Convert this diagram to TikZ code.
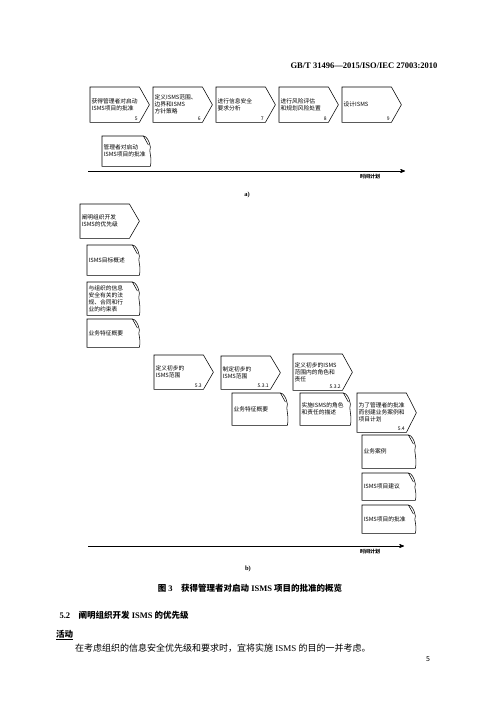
\documentclass[tikz,border=0pt]{standalone}
\usepackage{fontspec}
\setmainfont{Liberation Serif}
\newfontfamily\cjk{Noto Sans CJK SC}
\usetikzlibrary{arrows,calc}
\newcommand\boxfont{\cjk\fontsize{5.75}{7}\selectfont}
\tikzset{
  box_line/.style = {line width=0.55pt, black},
  box_text/.style = {align=left, inner sep=1.5pt, text width=46pt, font=\boxfont},
  step_box/.style = {box_text, rectangle, anchor=north west, minimum height=#1,
    append after command={\pgfextra{\draw[box_line]
      (\tikzlastnode.north west) -- (\tikzlastnode.north east)
      -- ($(\tikzlastnode.east)+(10,0)$) -- (\tikzlastnode.south east)
      -- (\tikzlastnode.south west) -- cycle;}}},
  step_box/.default = 35pt,
  doc_box/.style = {box_text, rectangle, anchor=north west, text width=#1,
    append after command={\pgfextra{\draw[box_line]
      ([xshift=-7pt]\tikzlastnode.north east) -- (\tikzlastnode.north west)
      -- (\tikzlastnode.south west) -- (\tikzlastnode.south east)
      .. controls ([xshift=2pt,yshift=10pt]\tikzlastnode.south east)
         and ([xshift=-2pt,yshift=-16pt]\tikzlastnode.north east)
      .. ([yshift=-11pt]\tikzlastnode.north east)
      .. controls ([xshift=-1pt,yshift=-5pt]\tikzlastnode.north east)
         and ([xshift=-4pt]\tikzlastnode.north east)
      .. ([xshift=-7pt]\tikzlastnode.north east);
      \draw[box_line] ([xshift=-7pt]\tikzlastnode.north east)
      .. controls ([xshift=-4pt,yshift=-4pt]\tikzlastnode.north east)
      .. ([xshift=-2pt,yshift=-9pt]\tikzlastnode.north east);}}},
  doc_box/.default = 47pt,
  num_lab/.style = {anchor=south east, inner sep=1.5pt,
    font=\cjk\fontsize{5}{6}\selectfont},
  time_line/.style = {line width=0.7pt, -stealth'},
  time_lab/.style = {anchor=north, inner sep=1pt, font=\cjk\bfseries\fontsize{5}{6}\selectfont}
}

\begin{document}
\begin{tikzpicture}[x=1pt, y=-1pt]
  \useasboundingbox (0,0) rectangle (500,707);
  \node[anchor=base east, font=\bfseries\fontsize{8.5}{10}\selectfont] (hdr) at (441,68)
    {GB/T 31496—2015/ISO/IEC 27003:2010};

  % a)
  \node[step_box, label={[num_lab]south east:5}] (s5) at (90,87) {获得管理者对启动\\ISMS项目的批准};
  \node[step_box, label={[num_lab]south east:6}] (s6) at (153,87) {定义ISMS范围、\\边界和ISMS\\方针策略};
  \node[step_box, label={[num_lab]south east:7}] (s7) at (216,87) {进行信息安全\\要求分析};
  \node[step_box, label={[num_lab]south east:8}] (s8) at (279,87) {进行风险评估\\和规划风险处置};
  \node[step_box, label={[num_lab]south east:9}] (s9) at (342,87) {设计ISMS};
  \node[doc_box=45pt, minimum height=30pt] (d5) at (102,136) {管理者对启动\\ISMS项目的批准};

  \coordinate (ta0) at (88,171);
  \coordinate (ta1) at (405,171);
  \draw[time_line] (ta0) -- (ta1);
  \node[time_lab] (tla) at (370,173) {时间计划};
  \node[font=\bfseries\fontsize{6.5}{8}\selectfont] (suba) at (247,195) {a)};

  % b)
  \node[step_box=34pt] (p0) at (80,204) {阐明组织开发\\ISMS的优先级};
  \node[doc_box=49pt, minimum height=30pt] (p1) at (87,245) {ISMS目标概述};
  \node[doc_box=49pt, minimum height=33pt] (p2) at (87,282) {与组织的信息\\安全有关的法\\规、合同和行\\业的约束表};
  \node[doc_box=49pt, minimum height=28pt] (p3) at (87,319) {业务特征概要};

  \node[step_box=34pt, label={[num_lab]south east:5.3}] (s53) at (154,355) {定义初步的\\ISMS范围};
  \node[step_box=33pt, label={[num_lab]south east:5.3.1}] (s531) at (221,356) {制定初步的\\ISMS范围};
  \node[step_box=36pt, label={[num_lab]south east:5.3.2}] (s532) at (293,354) {定义初步的ISMS\\范围内的角色和\\责任};
  \node[doc_box=52pt, minimum height=32pt] (q1) at (232,393) {业务特征概要};
  \node[doc_box=47pt, minimum height=32pt] (q2) at (300,393) {实施ISMS的角色\\和责任的描述};

  \node[step_box=39pt, label={[num_lab]south east:5.4}] (s54) at (357,393) {为了管理者的批准\\而创建业务案例和\\项目计划};
  \node[doc_box=50pt, minimum height=33pt] (r1) at (362,435) {业务案例};
  \node[doc_box=50pt, minimum height=27pt] (r2) at (362,473) {ISMS项目建议};
  \node[doc_box=50pt, minimum height=28pt] (r3) at (362,505) {ISMS项目的批准};

  \coordinate (tb0) at (88,546);
  \coordinate (tb1) at (404,546);
  \draw[time_line] (tb0) -- (tb1);
  \node[time_lab] (tlb) at (370,548) {时间计划};
  \node[font=\bfseries\fontsize{6.5}{8}\selectfont] (subb) at (248,569) {b)};

  % page text
  \node[anchor=base, font=\bfseries\fontsize{8.5}{10}\selectfont] (cap) at (250,591)
    {{\cjk 图} 3\quad{\cjk 获得管理者对启动} ISMS {\cjk 项目的批准的概览}};
  \node[anchor=base west, font=\bfseries\fontsize{8.5}{10}\selectfont] (sec) at (56,618)
    {5.2\quad{\cjk 阐明组织开发} ISMS {\cjk 的优先级}};
  \node[anchor=base west, inner sep=0pt, font=\cjk\bfseries\fontsize{8.5}{10}\selectfont] (act) at (56,637)
    {\underline{活动}};
  \node[anchor=base west, inner sep=0pt, font=\fontsize{9}{11}\selectfont] (body) at (75,651)
    {{\cjk 在考虑组织的信息安全优先级和要求时，宜将实施} ISMS {\cjk 的目的一并考虑。}};
  \node[anchor=base, font=\cjk\fontsize{7}{8}\selectfont] (pg) at (428,661) {5};
\end{tikzpicture}
\end{document}
